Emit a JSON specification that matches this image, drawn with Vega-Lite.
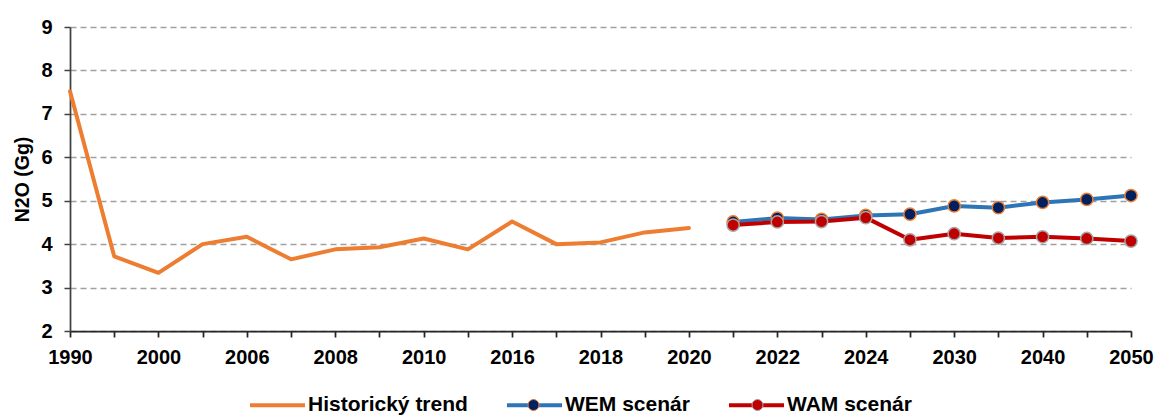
{
  "$schema": "https://vega.github.io/schema/vega-lite/v6.json",
  "width": 1061,
  "height": 304,
  "autosize": {"type": "none"},
  "padding": {"left": 70, "top": 27, "right": 25, "bottom": 84},
  "background": "white",
  "config": {
    "view": {"stroke": null},
    "font": "Liberation Sans",
    "axis": {
      "labelFont": "Liberation Sans",
      "labelFontWeight": "bold",
      "labelFontSize": 20,
      "labelColor": "#000000",
      "titleFont": "Liberation Sans",
      "titleFontWeight": "bold",
      "titleFontSize": 19.5,
      "titleColor": "#000000"
    },
    "legend": {
      "labelFont": "Liberation Sans",
      "labelFontWeight": "bold",
      "labelFontSize": 21,
      "labelColor": "#000000"
    }
  },
  "data": {
    "values": [
      {"year": 1990, "value": 7.52, "series": "Historický trend"},
      {"year": 1995, "value": 3.72, "series": "Historický trend"},
      {"year": 2000, "value": 3.34, "series": "Historický trend"},
      {"year": 2005, "value": 4.0, "series": "Historický trend"},
      {"year": 2006, "value": 4.17, "series": "Historický trend"},
      {"year": 2007, "value": 3.65, "series": "Historický trend"},
      {"year": 2008, "value": 3.88, "series": "Historický trend"},
      {"year": 2009, "value": 3.93, "series": "Historický trend"},
      {"year": 2010, "value": 4.13, "series": "Historický trend"},
      {"year": 2015, "value": 3.88, "series": "Historický trend"},
      {"year": 2016, "value": 4.52, "series": "Historický trend"},
      {"year": 2017, "value": 4.0, "series": "Historický trend"},
      {"year": 2018, "value": 4.04, "series": "Historický trend"},
      {"year": 2019, "value": 4.27, "series": "Historický trend"},
      {"year": 2020, "value": 4.37, "series": "Historický trend"},
      {"year": 2021, "value": 4.51, "series": "WEM scenár"},
      {"year": 2022, "value": 4.6, "series": "WEM scenár"},
      {"year": 2023, "value": 4.57, "series": "WEM scenár"},
      {"year": 2024, "value": 4.66, "series": "WEM scenár"},
      {"year": 2025, "value": 4.69, "series": "WEM scenár"},
      {"year": 2030, "value": 4.88, "series": "WEM scenár"},
      {"year": 2035, "value": 4.84, "series": "WEM scenár"},
      {"year": 2040, "value": 4.96, "series": "WEM scenár"},
      {"year": 2045, "value": 5.03, "series": "WEM scenár"},
      {"year": 2050, "value": 5.12, "series": "WEM scenár"},
      {"year": 2021, "value": 4.44, "series": "WAM scenár"},
      {"year": 2022, "value": 4.51, "series": "WAM scenár"},
      {"year": 2023, "value": 4.52, "series": "WAM scenár"},
      {"year": 2024, "value": 4.61, "series": "WAM scenár"},
      {"year": 2025, "value": 4.1, "series": "WAM scenár"},
      {"year": 2030, "value": 4.24, "series": "WAM scenár"},
      {"year": 2035, "value": 4.14, "series": "WAM scenár"},
      {"year": 2040, "value": 4.17, "series": "WAM scenár"},
      {"year": 2045, "value": 4.13, "series": "WAM scenár"},
      {"year": 2050, "value": 4.07, "series": "WAM scenár"}
    ]
  },
  "resolve": {"scale": {"fill": "independent"}},
  "encoding": {
    "x": {
      "field": "year",
      "type": "ordinal",
      "scale": {
        "domain": [1990, 1995, 2000, 2005, 2006, 2007, 2008, 2009, 2010, 2015, 2016, 2017, 2018, 2019, 2020, 2021, 2022, 2023, 2024, 2025, 2030, 2035, 2040, 2045, 2050],
        "padding": 0
      },
      "axis": {
        "title": null,
        "labelAngle": 0,
        "labelOverlap": false,
        "labelExpr": "indexof(['1990','2000','2006','2008','2010','2016','2018','2020','2022','2024','2030','2040','2050'], datum.label) >= 0 ? datum.label : ''",
        "domainColor": "#262626",
        "domainWidth": 1.75,
        "tickColor": "#262626",
        "tickWidth": 1.75,
        "tickSize": 6,
        "labelPadding": 10,
        "grid": false
      }
    },
    "y": {
      "field": "value",
      "type": "quantitative",
      "scale": {"domain": [2, 9], "nice": false, "zero": false},
      "axis": {
        "title": "N2O (Gg)",
        "values": [2, 3, 4, 5, 6, 7, 8, 9],
        "grid": true,
        "gridDash": [6, 4],
        "gridColor": "#A0A0A0",
        "gridWidth": 1.3,
        "domainColor": "#404040",
        "domainWidth": 1.75,
        "tickColor": "#404040",
        "tickWidth": 1.5,
        "tickSize": 6,
        "labelPadding": 12,
        "titlePadding": 8
      }
    }
  },
  "layer": [
    {
      "transform": [{"filter": "datum.series !== 'WAM scenár'"}],
      "mark": {"type": "line", "strokeWidth": 4, "strokeJoin": "round", "strokeCap": "round"},
      "encoding": {
        "stroke": {
          "field": "series",
          "type": "nominal",
          "scale": {"domain": ["Historický trend", "WEM scenár", "WAM scenár"], "range": ["#ED7D31", "#2E75B6", "#C00000"]},
          "legend": {
            "title": null,
            "orient": "none",
            "legendX": 178,
            "legendY": 348.5,
            "direction": "horizontal",
            "padding": 0,
            "symbolSize": 3025,
            "symbolStrokeWidth": 4,
            "symbolType": "M-1,0L1,0",
            "labelOffset": 1,
            "columnPadding": 31
          }
        }
      }
    },
    {
      "transform": [{"filter": "datum.series === 'WEM scenár'"}],
      "mark": {"type": "point", "filled": true, "opacity": 1, "size": 150, "stroke": "#ED7D31", "strokeWidth": 1.5},
      "encoding": {
        "fill": {
          "field": "series",
          "type": "nominal",
          "scale": {"domain": ["WEM scenár"], "range": ["#002060"]},
          "legend": {
            "title": null,
            "orient": "none",
            "legendX": 434,
            "legendY": 348.5,
            "padding": 0,
            "symbolSize": 3364,
            "symbolStrokeWidth": 1,
            "symbolStrokeColor": "#ED7D31",
            "symbolType": "M0.19,0C0.19,0.1049 0.1049,0.19 0,0.19C-0.1049,0.19 -0.19,0.1049 -0.19,0C-0.19,-0.1049 -0.1049,-0.19 0,-0.19C0.1049,-0.19 0.19,-0.1049 0.19,0Z",
            "labelExpr": "''"
          }
        }
      }
    },
    {
      "transform": [{"filter": "datum.series === 'WAM scenár'"}],
      "mark": {"type": "line", "strokeWidth": 4, "strokeJoin": "round", "strokeCap": "round"},
      "encoding": {
        "stroke": {
          "field": "series",
          "type": "nominal",
          "scale": {"domain": ["Historický trend", "WEM scenár", "WAM scenár"], "range": ["#ED7D31", "#2E75B6", "#C00000"]},
          "legend": {
            "title": null,
            "orient": "none",
            "legendX": 178,
            "legendY": 348.5,
            "direction": "horizontal",
            "padding": 0,
            "symbolSize": 3025,
            "symbolStrokeWidth": 4,
            "symbolType": "M-1,0L1,0",
            "labelOffset": 1,
            "columnPadding": 31
          }
        }
      }
    },
    {
      "transform": [{"filter": "datum.series === 'WAM scenár'"}],
      "mark": {"type": "point", "filled": true, "opacity": 1, "size": 150, "stroke": "#A5A5A5", "strokeWidth": 1.5},
      "encoding": {
        "fill": {
          "field": "series",
          "type": "nominal",
          "scale": {"domain": ["WAM scenár"], "range": ["#C00000"]},
          "legend": {
            "title": null,
            "orient": "none",
            "legendX": 658,
            "legendY": 348.5,
            "padding": 0,
            "symbolSize": 3364,
            "symbolStrokeWidth": 1,
            "symbolStrokeColor": "#A5A5A5",
            "symbolType": "M0.19,0C0.19,0.1049 0.1049,0.19 0,0.19C-0.1049,0.19 -0.19,0.1049 -0.19,0C-0.19,-0.1049 -0.1049,-0.19 0,-0.19C0.1049,-0.19 0.19,-0.1049 0.19,0Z",
            "labelExpr": "''"
          }
        }
      }
    }
  ]
}
